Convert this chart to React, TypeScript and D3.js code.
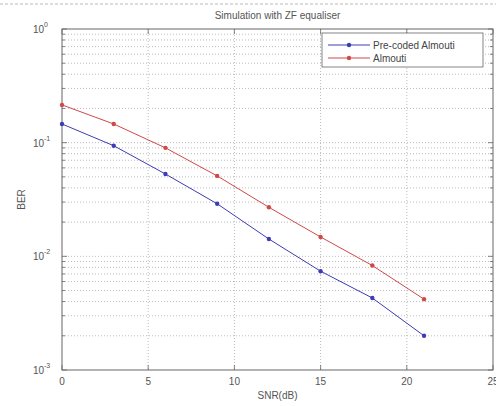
import React, { useEffect, useRef } from "react";
import * as d3 from "d3";

const snr = [0, 3, 6, 9, 12, 15, 18, 21];
const berPrecoded = [0.146, 0.094, 0.053, 0.029, 0.0142, 0.0074, 0.0043, 0.002];
const berAlmouti = [0.215, 0.146, 0.09, 0.051, 0.027, 0.0148, 0.0083, 0.0042];
const xTicks = [0, 5, 10, 15, 20, 25];
const yExps = [0, -1, -2, -3];
const seriesNames = ["Pre-coded Almouti", "Almouti"];
const seriesColors = ["#3c3cb4", "#d04848"];

const W = 496;
const H = 406;

export default function App() {
  const ref = useRef<SVGSVGElement>(null);

  useEffect(() => {
    const svg = d3.select(ref.current);
    svg.selectAll("*").remove();
    const left = 62, right = 493, top = 29, bottom = 370;
    const x = d3.scaleLinear().domain([0, 25]).range([left, right]);
    const y = d3.scaleLog().domain([1e-3, 1]).range([bottom, top]);
    const font = "Arial, 'Liberation Sans', sans-serif";
    const txt = "#555";

    // dashed line on top of the image
    svg.append("line").attr("x1", 0).attr("x2", W).attr("y1", 4).attr("y2", 4)
      .attr("stroke", "#bbb").attr("stroke-dasharray", "3,2");

    svg.append("rect").attr("x", left).attr("y", top)
      .attr("width", right - left).attr("height", bottom - top).attr("fill", "#fff");

    // grid
    const minor: number[] = [];
    for (let e = -3; e < 0; e++) for (let m = 1; m < 10; m++) minor.push(m * Math.pow(10, e));
    minor.push(1);
    svg.append("g").selectAll("line").data(minor.filter(v => v > 1e-3 && v < 1)).join("line")
      .attr("x1", left).attr("x2", right)
      .attr("y1", d => y(d)).attr("y2", d => y(d))
      .attr("stroke", "#aaa").attr("stroke-width", 0.8).attr("stroke-dasharray", "1,2");
    svg.append("g").selectAll("line").data(xTicks.slice(1, -1)).join("line")
      .attr("x1", d => x(d)).attr("x2", d => x(d))
      .attr("y1", top).attr("y2", bottom)
      .attr("stroke", "#aaa").attr("stroke-width", 0.8).attr("stroke-dasharray", "1,2");

    // ticks inward
    const tk = svg.append("g").attr("stroke", "#666").attr("stroke-width", 0.8);
    minor.forEach(v => {
      const len = Math.abs(Math.log10(v) - Math.round(Math.log10(v))) < 1e-9 ? 5 : 3;
      tk.append("line").attr("x1", left).attr("x2", left + len).attr("y1", y(v)).attr("y2", y(v));
      tk.append("line").attr("x1", right).attr("x2", right - len).attr("y1", y(v)).attr("y2", y(v));
    });
    xTicks.forEach(v => {
      tk.append("line").attr("x1", x(v)).attr("x2", x(v)).attr("y1", bottom).attr("y2", bottom - 5);
      tk.append("line").attr("x1", x(v)).attr("x2", x(v)).attr("y1", top).attr("y2", top + 5);
    });

    svg.append("rect").attr("x", left).attr("y", top)
      .attr("width", right - left).attr("height", bottom - top)
      .attr("fill", "none").attr("stroke", "#666").attr("stroke-width", 1);

    // tick labels
    svg.append("g").selectAll("text").data(xTicks).join("text")
      .attr("x", d => x(d)).attr("y", bottom + 15).attr("text-anchor", "middle")
      .attr("font-family", font).attr("font-size", 10).attr("fill", txt).text(d => d);
    yExps.forEach(e => {
      const t = svg.append("text").attr("x", left - 18).attr("y", y(Math.pow(10, e)) + 4)
        .attr("text-anchor", "end").attr("font-family", font).attr("font-size", 10).attr("fill", txt);
      t.append("tspan").text("10");
      svg.append("text").attr("x", left - 18).attr("y", y(Math.pow(10, e)) - 2)
        .attr("font-family", font).attr("font-size", 7).attr("fill", txt).text(e === 0 ? "0" : String(e));
    });

    svg.append("text").attr("x", (left + right) / 2).attr("y", 19).attr("text-anchor", "middle")
      .attr("font-family", font).attr("font-size", 10).attr("fill", txt)
      .text("Simulation with ZF equaliser");
    svg.append("text").attr("x", (left + right) / 2).attr("y", 399).attr("text-anchor", "middle")
      .attr("font-family", font).attr("font-size", 10).attr("fill", txt).text("SNR(dB)");
    svg.append("text").attr("transform", `translate(25,${(top + bottom) / 2}) rotate(-90)`)
      .attr("text-anchor", "middle").attr("font-family", font).attr("font-size", 10)
      .attr("fill", txt).text("BER");

    // series
    const line = d3.line<number>().x((_, i) => x(snr[i])).y(d => y(d));
    [berPrecoded, berAlmouti].forEach((s, k) => {
      svg.append("path").attr("d", line(s)).attr("fill", "none")
        .attr("stroke", seriesColors[k]).attr("stroke-width", 1);
      svg.append("g").selectAll("circle").data(s).join("circle")
        .attr("cx", (_, i) => x(snr[i])).attr("cy", d => y(d)).attr("r", 2.2)
        .attr("fill", seriesColors[k]);
    });

    // legend
    const lg = svg.append("g");
    lg.append("rect").attr("x", 322).attr("y", 33).attr("width", 161).attr("height", 34)
      .attr("fill", "#fff").attr("stroke", "#666").attr("stroke-width", 0.8);
    seriesNames.forEach((n, k) => {
      const ly = 45 + k * 13;
      lg.append("line").attr("x1", 328).attr("x2", 370).attr("y1", ly).attr("y2", ly)
        .attr("stroke", seriesColors[k]).attr("stroke-width", 1);
      lg.append("circle").attr("cx", 349).attr("cy", ly).attr("r", 2.2).attr("fill", seriesColors[k]);
      lg.append("text").attr("x", 373).attr("y", ly + 4).attr("font-family", font)
        .attr("font-size", 10).attr("fill", "#444").text(n);
    });
  }, []);

  return <svg ref={ref} width={W} height={H} style={{ position: "absolute", left: 0, top: 0, background: "#fff" }} />;
}
